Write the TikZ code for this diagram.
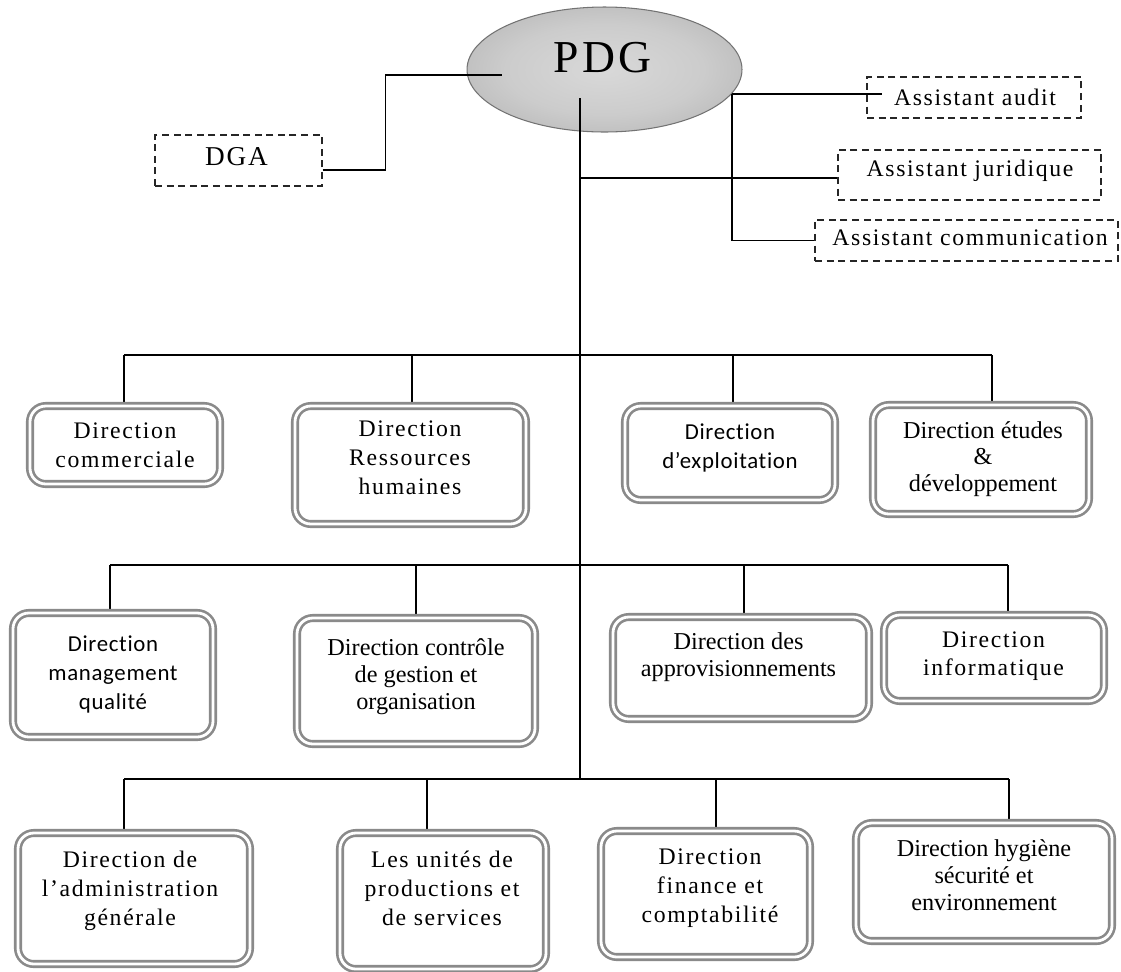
\documentclass[tikz,border=0pt]{standalone}
\usepackage{fontspec}
\setmainfont{Liberation Serif}
\newfontfamily\spacedserif[LetterSpace=7]{Liberation Serif}
\newfontfamily\calibsans[LetterSpace=3,Ligatures={NoCommon}]{Carlito}
\usetikzlibrary{fit,calc,shapes.geometric}
\definecolor{bord}{RGB}{138,138,138}
\definecolor{ellborder}{RGB}{115,115,115}
\colorlet{shA}{black!15}
\colorlet{shB}{black!20}
\colorlet{shC}{black!32}
\colorlet{shD}{black!44}
\pgfdeclareradialshading{pdgshade}{\pgfpoint{0bp}{0bp}}{color(0bp)=(shA); color(18bp)=(shB); color(38bp)=(shC); color(50bp)=(shD)}
\pgfdeclarelayer{bottom}
\pgfdeclarelayer{bg}
\pgfsetlayers{bottom,bg,main}
\tikzset{
  conn/.style={draw=black, line width=0.9pt},
  dirbox/.style={draw=bord, line width=1.5pt, double=white, double distance=1.6pt, rounded corners=9pt, inner sep=0pt, fill=white},
  dashbox/.style={draw=black!85, line width=0.7pt, dash pattern=on 4pt off 2.6pt, inner sep=0pt},
  tsp/.style={font=\spacedserif\fontsize{13.5}{16.4}\selectfont, align=center, inner sep=0pt},
  tpl/.style={font=\fontsize{13.8}{15.3}\selectfont, align=center, inner sep=0pt},
  tsans/.style={font=\calibsans\fontsize{13}{16.4}\selectfont, align=center, inner sep=0pt},
}
\begin{document}
\begin{tikzpicture}[x=0.02cm, y=-0.02cm]
\useasboundingbox (0,0) rectangle (1121,971);

% PDG ellipse
\begin{pgfonlayer}{bottom}
\node[ellipse, draw=ellborder, line width=0.6pt, shading=pdgshade, minimum width=5.5cm, minimum height=2.5cm, inner sep=0pt] (pdg) at (604.5,69.5) {};
\end{pgfonlayer}
\node[font=\spacedserif\fontsize{26}{30}\selectfont, inner sep=0pt, anchor=base] (pdgt) at (602.5,72) {PDG};

% dashed boxes
\node[dashbox, fit={(155,135) (322,186)}] (dga) {};
\node[dashbox, fit={(867,77) (1081,118)}] (audit) {};
\node[dashbox, fit={(838,150) (1101,200)}] (jur) {};
\node[dashbox, fit={(815,220) (1118,261)}] (comm) {};
\node[font=\spacedserif\fontsize{15.5}{18}\selectfont, inner sep=0pt, anchor=base] (dgat) at (236.5,165) {DGA};
\node[tsp, anchor=base] (auditt) at (975,105) {Assistant audit};
\node[tsp, anchor=base] (jurt) at (970,176) {Assistant juridique};
\node[tsp, anchor=base] (commt) at (970,245) {Assistant communication};

% direction boxes
\node[dirbox, fit={(30,406) (220,484)}] (b1) {};
\node[dirbox, fit={(295,406) (526,524)}] (b2) {};
\node[dirbox, fit={(625,406) (835,500)}] (b3) {};
\node[dirbox, fit={(873,405) (1089,514)}] (b4) {};
\node[dirbox, fit={(13,613) (213,737)}] (b5) {};
\node[dirbox, fit={(297,618) (535,744)}] (b6) {};
\node[dirbox, fit={(613,617) (869,719)}] (b7) {};
\node[dirbox, fit={(884,615) (1104,701)}] (b8) {};
\node[dirbox, fit={(18,833) (250,964)}] (b9) {};
\node[dirbox, fit={(340,833) (546,969)}] (b10) {};
\node[dirbox, fit={(601,831) (810,957)}] (b11) {};
\node[dirbox, fit={(856,823) (1112,941)}] (b12) {};

\node[tsp] (t1) at (125,447) {Direction\strut\\commerciale\strut};
\node[tsp] (t2) at (410,460) {Direction\strut\\Ressources\strut\\humaines\strut};
\node[tsans] (t3) at (730,448) {Direction\strut\\d’exploitation\strut};
\node[tpl] (t4) at (983,459.5) {Direction études\strut\\\&\strut\\développement\strut};
\node[tsans] (t5) at (113,674.5) {Direction\strut\\management\strut\\qualité\strut};
\node[tpl] (t6) at (416,677) {Direction contrôle\strut\\de gestion et\strut\\organisation\strut};
\node[tpl] (t7) at (738.5,658) {Direction des\strut\\approvisionnements\strut};
\node[tsp] (t8) at (993.5,655.7) {Direction\strut\\informatique\strut};
\node[tsp] (t9) at (130,891) {Direction de\strut\\l’administration\strut\\générale\strut};
\node[tsp] (t10) at (442,891) {Les unités de\strut\\productions et\strut\\de services\strut};
\node[tsp] (t11) at (710,887.7) {Direction\strut\\finance et\strut\\comptabilité\strut};
\node[tpl] (t12) at (984,878) {Direction hygiène\strut\\sécurité et\strut\\environnement\strut};

% connectors
\begin{pgfonlayer}{bg}
\coordinate (ptop) at (580,98);
\coordinate (pl) at (502,75);
\coordinate (pr) at (732,94);
\coordinate (ae) at (882,94);
\coordinate (mj) at (580,178);
\coordinate (d11) at (124,355);
\coordinate (d12) at (412,355);
\coordinate (d13) at (733,355);
\coordinate (d14) at (992,355);
\coordinate (d21) at (110,565);
\coordinate (d22) at (416,565);
\coordinate (d23) at (744,565);
\coordinate (d24) at (1008,565);
\coordinate (d31) at (124,779);
\coordinate (d32) at (427,779);
\coordinate (d33) at (716,779);
\coordinate (d34) at (1009,779);
\coordinate (d3m) at (580,779);

\draw[conn] ($(dga.east)+(0,9.5)$) -- ++(63,0) |- (pl);
\draw[conn] (pr) -- (ae);
\draw[conn] (pr) |- (comm.west);
\draw[conn] (mj) -- (mj -| jur.west);
\draw[conn] (ptop) -- (d3m);

\draw[conn] (d11) -- (d14);
\draw[conn] (d11) -- (d11 |- b1.north);
\draw[conn] (d12) -- (d12 |- b2.north);
\draw[conn] (d13) -- (d13 |- b3.north);
\draw[conn] (d14) -- (d14 |- b4.north);

\draw[conn] (d21) -- (d24);
\draw[conn] (d21) -- (d21 |- b5.north);
\draw[conn] (d22) -- (d22 |- b6.north);
\draw[conn] (d23) -- (d23 |- b7.north);
\draw[conn] (d24) -- (d24 |- b8.north);

\draw[conn] (d31) -- (d34);
\draw[conn] (d31) -- (d31 |- b9.north);
\draw[conn] (d32) -- (d32 |- b10.north);
\draw[conn] (d33) -- (d33 |- b11.north);
\draw[conn] (d34) -- (d34 |- b12.north);
\end{pgfonlayer}
\end{tikzpicture}
\end{document}
